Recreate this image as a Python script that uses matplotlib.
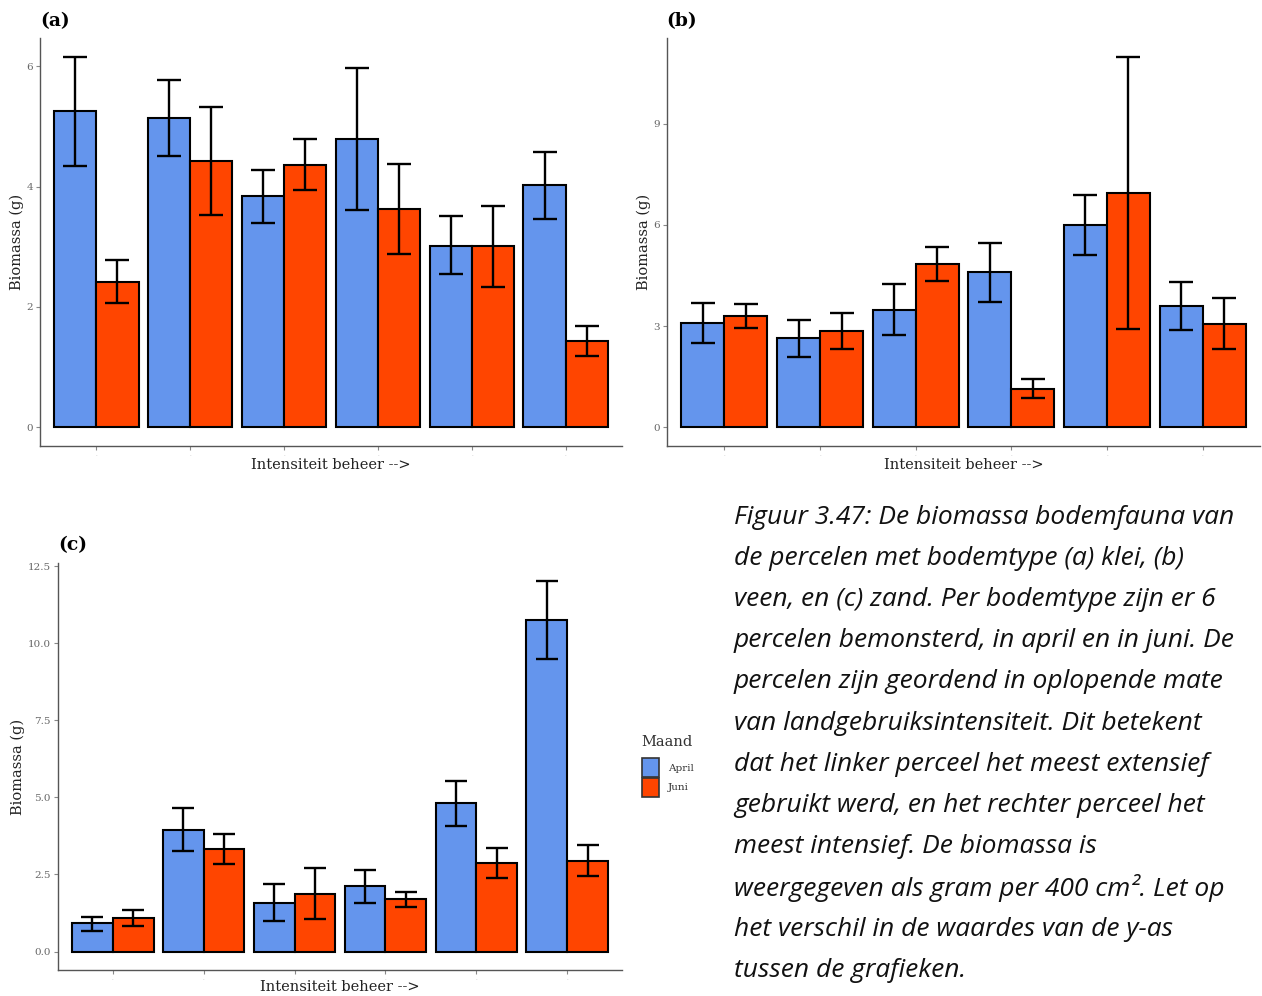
import matplotlib
matplotlib.use("Agg")
import matplotlib.pyplot as plt
from matplotlib import font_manager as fm
import numpy as np
from matplotlib.patches import Rectangle

# ---------------- data ----------------
groups = [1, 2, 3, 4, 5, 6]
months = ["April", "Juni"]

# panel (a) klei
a_april = [5.26, 5.14, 3.84, 4.79, 3.02, 4.03]
a_april_lo = [4.34, 4.51, 3.40, 3.61, 2.54, 3.46]
a_april_hi = [6.16, 5.78, 4.28, 5.97, 3.51, 4.57]
a_juni = [2.42, 4.43, 4.36, 3.63, 3.02, 1.44]
a_juni_lo = [2.06, 3.53, 3.94, 2.88, 2.34, 1.19]
a_juni_hi = [2.78, 5.32, 4.79, 4.38, 3.68, 1.69]

# panel (b) veen
b_april = [3.10, 2.66, 3.49, 4.61, 6.00, 3.60]
b_april_lo = [2.50, 2.08, 2.73, 3.72, 5.11, 2.90]
b_april_hi = [3.68, 3.19, 4.26, 5.47, 6.88, 4.31]
b_juni = [3.31, 2.87, 4.84, 1.15, 6.94, 3.07]
b_juni_lo = [2.95, 2.33, 4.34, 0.86, 2.92, 2.33]
b_juni_hi = [3.66, 3.38, 5.34, 1.45, 10.99, 3.84]

# panel (c) zand
c_april = [0.91, 3.95, 1.58, 2.12, 4.82, 10.74]
c_april_lo = [0.67, 3.26, 1.00, 1.57, 4.08, 9.49]
c_april_hi = [1.13, 4.65, 2.18, 2.63, 5.53, 12.03]
c_juni = [1.09, 3.33, 1.86, 1.70, 2.86, 2.95]
c_juni_lo = [0.84, 2.85, 1.06, 1.44, 2.37, 2.44]
c_juni_hi = [1.36, 3.80, 2.70, 1.92, 3.37, 3.47]

a_ticks = [0, 2, 4, 6]
b_ticks = [0, 3, 6, 9]
c_ticks = [0.0, 2.5, 5.0, 7.5, 10.0, 12.5]

caption_lines = [
    "Figuur 3.47: De biomassa bodemfauna van",
    "de percelen met bodemtype (a) klei, (b)",
    "veen, en (c) zand. Per bodemtype zijn er 6",
    "percelen bemonsterd, in april en in juni. De",
    "percelen zijn geordend in oplopende mate",
    "van landgebruiksintensiteit. Dit betekent",
    "dat het linker perceel het meest extensief",
    "gebruikt werd, en het rechter perceel het",
    "meest intensief. De biomassa is",
    "weergegeven als gram per 400 cm². Let op",
    "het verschil in de waardes van de y-as",
    "tussen de grafieken.",
]

BLUE = "#6495ED"
RED = "#FF4500"
SERIF = "DejaVu Serif"

W, H = 1262, 996
fig = plt.figure(figsize=(W / 100, H / 100), dpi=100)
fig.patch.set_facecolor("white")


def find_italic():
    cands = []
    for f in fm.fontManager.ttflist:
        if f.name in ("Open Sans", "Noto Sans") and f.style == "italic" and str(f.stretch) in ("normal", "500") \
                and f.weight in (400, "normal", "regular"):
            cands.append(f)
    cands.sort(key=lambda f: 0 if f.name == "Open Sans" else 1)
    if cands:
        return fm.FontProperties(fname=cands[0].fname, size=19.0)
    return fm.FontProperties(family="Liberation Sans", style="italic", size=17.0)


cap_font = find_italic()


def rect(x0, y0, x1, y1):
    return [x0 / W, 1 - y1 / H, (x1 - x0) / W, (y1 - y0) / H]


def panel(r, ap, aplo, aphi, ju, julo, juhi, ticks, ylim, fmt, capsize, xlab_y):
    ax = fig.add_axes(rect(*r))
    x = np.array(groups, dtype=float)
    ap = np.array(ap); ju = np.array(ju)
    w = 0.45
    ax.bar(x - w / 2, ap, width=w, color=BLUE, edgecolor="black", linewidth=1.5, zorder=2)
    ax.bar(x + w / 2, ju, width=w, color=RED, edgecolor="black", linewidth=1.5, zorder=2)
    ax.errorbar(x - w / 2, ap, yerr=[ap - np.array(aplo), np.array(aphi) - ap], fmt="none",
                ecolor="black", elinewidth=1.7, capsize=capsize, capthick=1.7, zorder=3)
    ax.errorbar(x + w / 2, ju, yerr=[ju - np.array(julo), np.array(juhi) - ju], fmt="none",
                ecolor="black", elinewidth=1.7, capsize=capsize, capthick=1.7, zorder=3)
    ax.set_xlim(0.4, 6.6)
    ax.set_ylim(*ylim)
    ax.set_yticks(ticks)
    ax.set_yticklabels([fmt.format(t) for t in ticks], fontsize=7.5, color="#666666", family=SERIF)
    ax.set_xticks(groups)
    ax.set_xticklabels(["·"] * 6, fontsize=4, color="#aaaaaa")
    ax.tick_params(axis="both", length=3, width=0.8, color="#888888", pad=2)
    for s in ["top", "right"]:
        ax.spines[s].set_visible(False)
    for s in ["left", "bottom"]:
        ax.spines[s].set_color("#555555")
        ax.spines[s].set_linewidth(1.0)
    ax.set_ylabel("Biomassa (g)", fontsize=10.5, family=SERIF, color="#222222", labelpad=2)
    ax.set_xlabel("Intensiteit beheer -->", fontsize=10.5, family=SERIF, color="#222222")
    y0, y1 = r[1], r[3]
    ax.xaxis.set_label_coords(0.5, -(xlab_y - y1) / (y1 - y0))
    ax.xaxis.label.set_va("center")
    ax.set_facecolor("white")
    return ax


axa = panel((40, 38, 622, 446), a_april, a_april_lo, a_april_hi, a_juni, a_juni_lo, a_juni_hi,
            a_ticks, (-0.31, 6.47), "{:g}", 8.3, 465)
axb = panel((667, 38, 1260, 446), b_april, b_april_lo, b_april_hi, b_juni, b_juni_lo, b_juni_hi,
            b_ticks, (-0.55, 11.54), "{:g}", 8.3, 465)
axc = panel((58, 563, 622, 970), c_april, c_april_lo, c_april_hi, c_juni, c_juni_lo, c_juni_hi,
            c_ticks, (-0.6, 12.6), "{:.1f}", 7.8, 987)

# panel labels
fig.text(40 / W, 1 - 21 / H, "(a)", fontsize=13.5, fontweight="bold", family=SERIF, va="center", ha="left")
fig.text(666 / W, 1 - 21 / H, "(b)", fontsize=13.5, fontweight="bold", family=SERIF, va="center", ha="left")
fig.text(58 / W, 1 - 545 / H, "(c)", fontsize=13.5, fontweight="bold", family=SERIF, va="center", ha="left")

# legend for panel (c)
fig.text(641 / W, 1 - 742 / H, "Maand", fontsize=10.5, family=SERIF, color="#333333", va="center", ha="left")
for i, (lab, col) in enumerate(zip(months, [BLUE, RED])):
    y0 = 758 + i * 20
    fig.patches.append(Rectangle((642 / W, 1 - (y0 + 19) / H), 17 / W, 19 / H, transform=fig.transFigure,
                                 facecolor=col, edgecolor="#333333", linewidth=1.2))
    fig.text(668 / W, 1 - (y0 + 10) / H, lab, fontsize=7.5, family=SERIF, color="#333333", va="center", ha="left")

# caption
for i, line in enumerate(caption_lines):
    fig.text(734 / W, 1 - (517 + i * 41.2) / H, line, fontproperties=cap_font,
             color="#111111", va="center", ha="left")

fig.savefig("out.png", dpi=100)
